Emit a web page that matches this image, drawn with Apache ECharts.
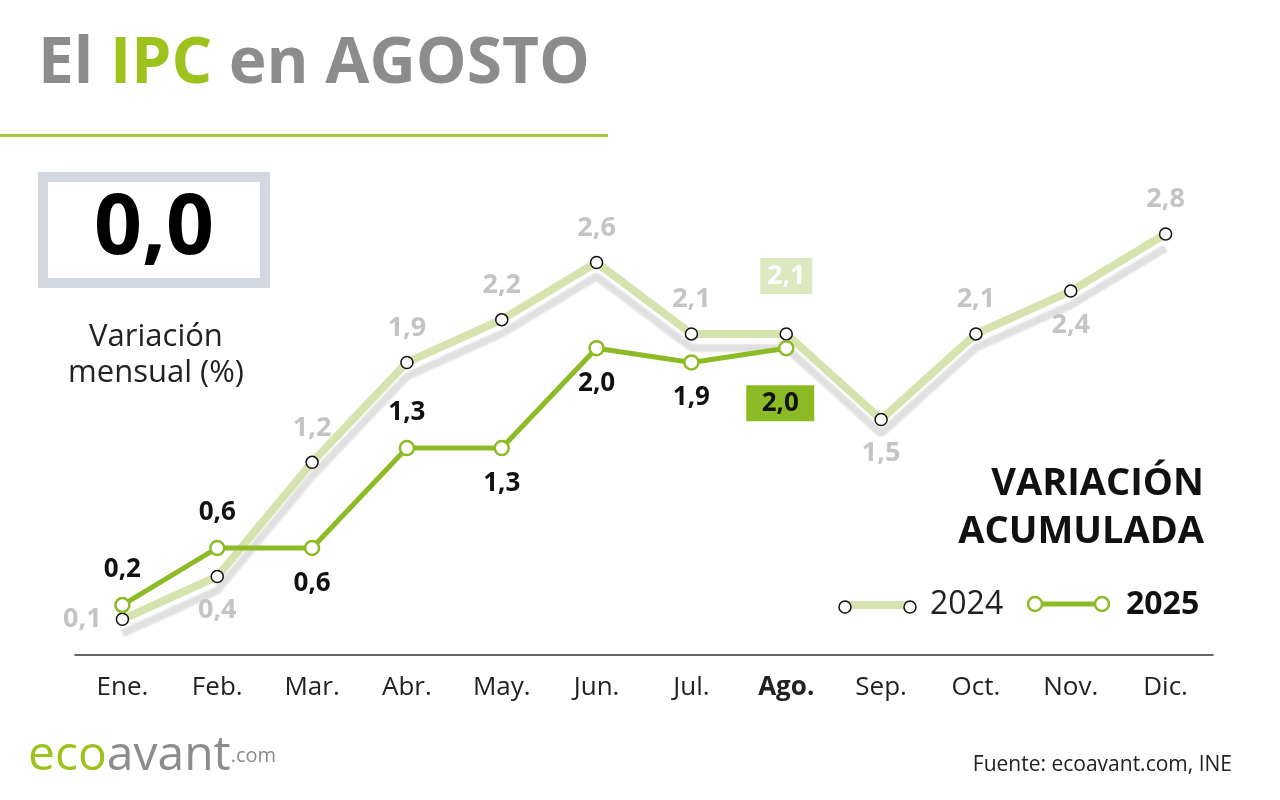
<!DOCTYPE html>
<html><head><meta charset="utf-8">
<script src="https://cdn.jsdelivr.net/npm/echarts@6/dist/echarts.min.js"></script>
<style>html,body{margin:0;background:#fff}#c{width:1280px;height:800px}</style></head>
<body><div id="c"></div>
<script>
const months = ['Ene.','Feb.','Mar.','Abr.','May.','Jun.','Jul.','Ago.','Sep.','Oct.','Nov.','Dic.'];
const v2024 = [0.1,0.4,1.2,1.9,2.2,2.6,2.1,2.1,1.5,2.1,2.4,2.8];
const v2025 = [0.2,0.6,0.6,1.3,1.3,2.0,1.9,2.0];
const pos2024 = ['left','bottom','top','top','top','top','top','top','bottom','top','bottom','top'];
const pos2025 = ['top','top','bottom','top','bottom','bottom','bottom','bottom'];
const fmt = v => v.toFixed(1).replace('.', ',');
const F = '"Open Sans","Noto Sans",sans-serif';
const G = '#8dbb25', LG = '#d5e4ae';

const chart = echarts.init(document.getElementById('c'));
chart.setOption({
  animation:false,
  grid:{left:75,right:67,top:234,bottom:145},
  xAxis:{type:'category',data:months,boundaryGap:true,
    axisLine:{onZero:false,lineStyle:{color:'#333',width:1.5}},
    axisTick:{alignWithLabel:true,interval:0,length:8,lineStyle:{color:'#333'}},
    axisLabel:{interval:0,fontFamily:F,fontSize:26,color:'#222',margin:20,
      formatter:(v)=> v==='Ago.'?'{b|'+v+'}':v, rich:{b:{fontFamily:F,fontSize:26,fontWeight:'bold',color:'#222'}}}},
  yAxis:{type:'value',min:-0.15,max:2.8,show:false,splitLine:{show:false}},
  series:[
    {type:'line',data:v2024.map((v,i)=>({value:v,label:{position:pos2024[i],show:i!==7}})),z:2,
      lineStyle:{color:LG,width:8,shadowColor:'rgba(0,0,0,0.12)',shadowOffsetY:14,shadowBlur:2},
      symbol:'circle',symbolSize:12,itemStyle:{color:'#fff',borderColor:'#111',borderWidth:1.5},
      label:{show:true,formatter:p=>fmt(p.value),fontFamily:F,fontWeight:'bold',fontSize:27,color:'#c4c4c4',distance:14},
      markPoint:{symbol:'rect',symbolSize:[52,36],symbolOffset:[0,-58],itemStyle:{color:'#dce8bf'},
        label:{color:'#fff',fontFamily:F,fontWeight:'bold',fontSize:27,formatter:'2,1'},
        data:[{coord:['Ago.',2.1],value:2.1}]}},
    {type:'line',data:v2025.map((v,i)=>({value:v,label:{position:pos2025[i],show:i!==7}})),z:3,
      lineStyle:{color:G,width:5},
      symbol:'circle',symbolSize:14,itemStyle:{color:'#fff',borderColor:G,borderWidth:2.5},
      label:{show:true,formatter:p=>fmt(p.value),fontFamily:F,fontWeight:'bold',fontSize:26,color:'#111',distance:14},
      markPoint:{symbol:'rect',symbolSize:[68,36],symbolOffset:[-6,55],itemStyle:{color:G},
        label:{color:'#111',fontFamily:F,fontWeight:'bold',fontSize:26,formatter:'2,0'},
        data:[{coord:['Ago.',2.0],value:2.0}]}}
  ],
  graphic:[
    {type:'text',left:38,top:33,style:{rich:{g:{fill:'#8c8c8c',font:'bold 64px '+F},v:{fill:'#9bc31c',font:'bold 64px '+F}},text:'{g|El }{v|IPC}{g| en AGOSTO}'}},
    {type:'rect',shape:{x:0,y:134,width:608,height:3},style:{fill:'#a6c93a'}},
    {type:'rect',shape:{x:38,y:172,width:232,height:116},style:{fill:'#d3d7e0'}},
    {type:'rect',shape:{x:48,y:182,width:212,height:96},style:{fill:'#fff'}},
    {type:'text',x:154,y:230,style:{text:'0,0',font:'bold 84px '+F,fill:'#000',align:'center',verticalAlign:'middle'}},
    {type:'text',x:156,y:355,style:{text:'Variación\nmensual (%)',font:'31px '+F,fill:'#222',align:'center',verticalAlign:'middle',lineHeight:36}},
    {type:'text',x:1204,y:508,style:{text:'VARIACIÓN\nACUMULADA',font:'bold 38px '+F,fill:'#111',align:'right',verticalAlign:'middle',lineHeight:48}},
    {type:'line',shape:{x1:845,y1:605,x2:910,y2:605},style:{stroke:LG,lineWidth:8}},
    {type:'circle',shape:{cx:845,cy:607,r:6},style:{fill:'#fff',stroke:'#111',lineWidth:1.5}},
    {type:'circle',shape:{cx:910,cy:607,r:6},style:{fill:'#fff',stroke:'#111',lineWidth:1.5}},
    {type:'text',x:930,y:605,style:{text:'2024',font:'32px '+F,fill:'#222',verticalAlign:'middle'}},
    {type:'line',shape:{x1:1035,y1:604,x2:1102,y2:604},style:{stroke:G,lineWidth:5}},
    {type:'circle',shape:{cx:1035,cy:604,r:7},style:{fill:'#fff',stroke:G,lineWidth:2.5}},
    {type:'circle',shape:{cx:1102,cy:604,r:7},style:{fill:'#fff',stroke:G,lineWidth:2.5}},
    {type:'text',x:1126,y:605,style:{text:'2025',font:'bold 32px '+F,fill:'#111',verticalAlign:'middle'}},
    {type:'text',left:28,top:732,style:{rich:{a:{fill:'#9bc31c',font:'48px '+F},b:{fill:'#8c8c8c',font:'48px '+F},c:{fill:'#8c8c8c',font:'20px '+F}},text:'{a|eco}{b|avant}{c|.com}'}},
    {type:'text',right:48,top:755,style:{text:'Fuente: ecoavant.com, INE',font:'21px '+F,fill:'#222'}}
  ]
});
</script></body></html>
